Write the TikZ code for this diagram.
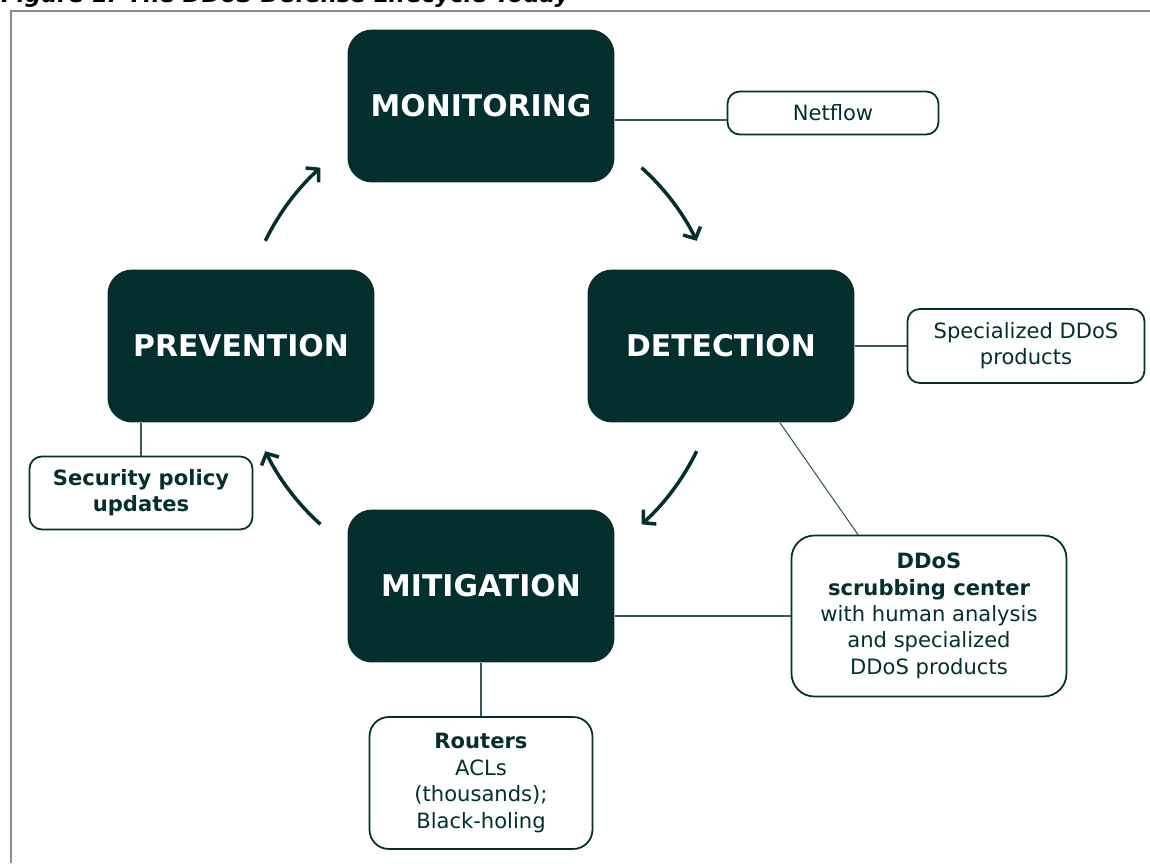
\documentclass[tikz,border=0pt]{standalone}
\usepackage{fontspec}
\setmainfont{DejaVu Sans}
\usetikzlibrary{positioning}
\usetikzlibrary{arrows.meta}
\usetikzlibrary{calc}
\usepackage{xcolor}
\definecolor{ddosteal}{HTML}{03302E}
\definecolor{framegray}{HTML}{8C8C8C}

\begin{document}
\begin{tikzpicture}[x=0.02cm, y=0.02cm,
  phase/.style={fill=ddosteal, text=white, rounded corners=14pt,
    minimum width=5.34cm, minimum height=3.06cm,
    font=\fontsize{17}{20}\selectfont\bfseries},
  tool/.style={draw=ddosteal, line width=1pt, fill=white, text=ddosteal,
    rounded corners=7pt, align=center, inner sep=0pt,
    font=\fontsize{12}{15}\selectfont},
  link/.style={draw=ddosteal!80, line width=0.6pt},
  turn/.style={draw=ddosteal, line width=2pt,
    -{Straight Barb[length=5pt,width=11pt]}}]
  \clip (-481,-517) rectangle (669,346);
  \node [anchor=base west, inner sep=0pt, font=\fontsize{13}{15}\selectfont\bfseries\itshape]
    (title) at (-480,343) {Figure 1: The DDoS Defense Lifecycle Today};
  \draw [framegray, line width=1.2pt] (-470,-517) -- (-470,335) -- (669,335);

  \node [phase] (monitoring) at (0,240) {MONITORING};
  \node [phase] (detection) at (240,0) {DETECTION};
  \node [phase] (mitigation) at (0,-240) {MITIGATION};
  \node [phase] (prevention) at (-240,0) {PREVENTION};

  \node [tool, minimum width=4.22cm, minimum height=0.86cm] (netflow) at (352,233) {Netflow};
  \node [tool, minimum width=4.74cm, minimum height=1.48cm] (products) at (545,0)
    {Specialized DDoS\\products};
  \node [tool, minimum width=5.5cm, minimum height=3.22cm, rounded corners=13pt] (scrubbing) at (448,-270)
    {\textbf{DDoS}\\\textbf{scrubbing center}\\with human analysis\\and specialized\\DDoS products};
  \node [tool, minimum width=4.46cm, minimum height=2.64cm, rounded corners=11pt] (routers) at (0,-437)
    {\textbf{Routers}\\ACLs\\(thousands);\\Black-holing};
  \node [tool, minimum width=4.46cm, minimum height=1.46cm, font=\fontsize{12}{15}\selectfont\bfseries]
    (security) at (-340,-147) {Security policy\\updates};

  \draw [link] ($(monitoring.east |- netflow.west)+(0,-7)$) -- ($(netflow.west)+(0,-7)$);
  \draw [link] (detection.east) -- (products.west);
  \draw [link] ($(detection.south)+(59,0)$) -- ($(scrubbing.north)+(-71,0)$);
  \draw [link] (mitigation.east |- scrubbing.west) -- (scrubbing.west);
  \draw [link] (mitigation.south) -- (routers.north);
  \draw [link] (security.north) -- (security.north |- prevention.south);

  \draw [turn] (48:4.8cm) arc[start angle=48, end angle=26, radius=4.8cm];
  \draw [turn] (-26:4.8cm) arc[start angle=-26, end angle=-48, radius=4.8cm];
  \draw [turn] (228:4.8cm) arc[start angle=228, end angle=206, radius=4.8cm];
  \draw [turn] (154:4.8cm) arc[start angle=154, end angle=132, radius=4.8cm];
\end{tikzpicture}
\end{document}
